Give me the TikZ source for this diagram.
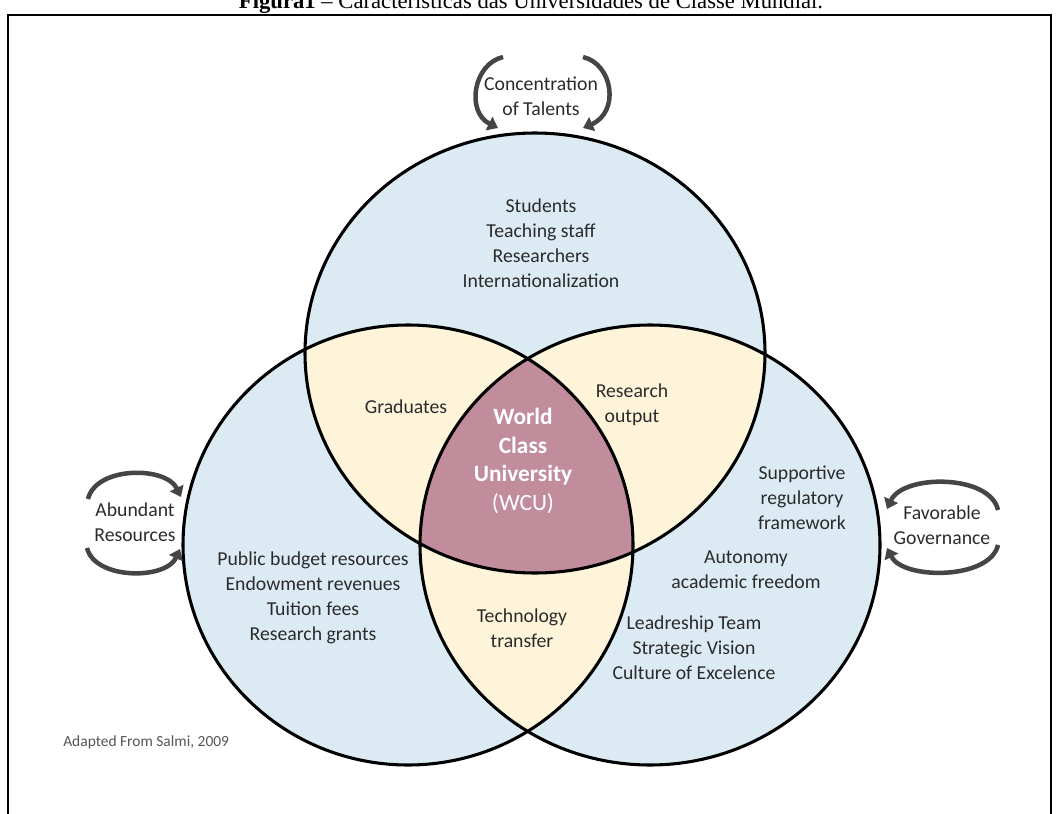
\documentclass[tikz,border=0pt]{standalone}
\usepackage{fontspec}
\setmainfont{Carlito}
\newfontfamily\titlefont{Liberation Serif}
\usetikzlibrary{arrows.meta}
\definecolor{cblue}{HTML}{DBEAF3}
\definecolor{ccream}{HTML}{FEF4DA}
\definecolor{cpink}{HTML}{C18C9C}
\definecolor{ctext}{HTML}{2B2B2B}
\definecolor{carrow}{HTML}{454545}
\definecolor{cnote}{HTML}{555555}
\begin{document}
\begin{tikzpicture}[x=0.75pt,y=-0.75pt,
  lbl/.style={text=ctext, font=\fontsize{14.8}{18.8}\selectfont, align=center, inner sep=0pt},
  wcutext/.style={text=white, font=\fontsize{17.5}{21.5}\selectfont\bfseries, align=center, inner sep=0pt},
  curvarrow/.style={draw=carrow, line width=3.4pt, -{Triangle[width=11pt,length=7.5pt]}},
  ring/.style={draw=black, line width=2.3pt},
]
\useasboundingbox (0,0) rectangle (1059,813);
\def\vennT{(535,353) ellipse [x radius=172.5pt, y radius=165pt]}
\def\vennL{(408,545) ellipse [x radius=168.75pt, y radius=165pt]}
\def\vennR{(650,545) ellipse [x radius=172.5pt, y radius=165pt]}
% title and frame
\node[anchor=base, font=\titlefont\fontsize{17}{20}\selectfont, inner sep=0pt] (title) at (531,9) {\textbf{Figura1} – Características das Universidades de Classe Mundial.};
\draw[line width=1.6pt] (8,15) rectangle (1051,840);
% fills
\fill[cblue] \vennT;
\fill[cblue] \vennL;
\fill[cblue] \vennR;
\begin{scope}\clip \vennT; \fill[ccream] \vennL; \fill[ccream] \vennR; \end{scope}
\begin{scope}\clip \vennL; \fill[ccream] \vennR; \end{scope}
\begin{scope}\clip \vennT; \clip \vennL; \fill[cpink] \vennR; \end{scope}
\draw[ring] \vennT;
\draw[ring] \vennL;
\draw[ring] \vennR;
% labels
\node[lbl] (talents) at (541,243.5) {Students\\Teaching staff\\Researchers\\Internationalization};
\node[lbl] (grad) at (406,407) {Graduates};
\node[lbl] (resout) at (632,405) {Research\\output};
\node[wcutext] (wcu) at (523,461) {World\\Class\\University\\{\mdseries (WCU)}};
\node[lbl] (supp) at (802,498) {Supportive\\regulatory\\framework};
\node[lbl] (auto) at (746,570) {Autonomy\\academic freedom};
\node[lbl] (lead) at (694,648) {Leadreship Team\\Strategic Vision\\Culture of Excelence};
\node[lbl] (public) at (313,597.5) {Public budget resources\\Endowment revenues\\Tuition fees\\Research grants};
\node[lbl] (tech) at (522,628) {Technology\\transfer};
\node[lbl] (conc) at (541,96) {Concentration\\of Talents};
\node[lbl] (abund) at (135,522) {Abundant\\Resources};
\node[lbl] (fav) at (942,525) {Favorable\\Governance};
\node[text=cnote, font=\fontsize{11.6}{14}\selectfont, anchor=west, inner sep=0pt] (note) at (63,742) {Adapted From Salmi, 2009};
% curved arrows
\coordinate (ca1) at (503,57); \coordinate (ca2) at (498,128);
\coordinate (cb1) at (583,57); \coordinate (cb2) at (583,128);
\draw[curvarrow] (ca1) .. controls (473,64) and (466,112) .. (ca2);
\draw[curvarrow] (cb1) .. controls (613,64) and (620,112) .. (cb2);
\coordinate (aa1) at (88,499); \coordinate (aa2) at (181,497);
\coordinate (ab1) at (87,548); \coordinate (ab2) at (180,549);
\draw[curvarrow] (aa1) .. controls (96,466) and (166,466) .. (aa2);
\draw[curvarrow] (ab1) .. controls (95,580) and (166,580) .. (ab2);
\coordinate (fa1) at (998,510); \coordinate (fa2) at (887,509);
\coordinate (fb1) at (998,545); \coordinate (fb2) at (887,548);
\draw[curvarrow] (fa1) .. controls (990,474) and (903,474) .. (fa2);
\draw[curvarrow] (fb1) .. controls (990,580) and (903,580) .. (fb2);
\end{tikzpicture}
\end{document}
